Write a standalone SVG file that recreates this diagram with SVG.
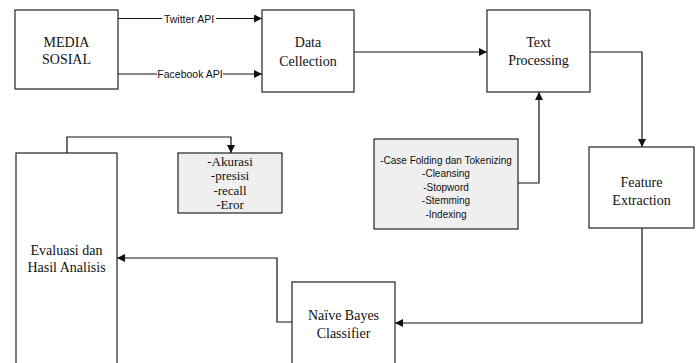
<svg xmlns="http://www.w3.org/2000/svg" width="698" height="363" viewBox="0 0 698 363">
<style>
  .box{fill:#ffffff;stroke:#222;stroke-width:1.2}
  .gray{fill:#efefef;stroke:#222;stroke-width:1.2}
  .lbl{font-family:"Liberation Serif","Times New Roman",serif;font-size:14px;fill:#111;text-anchor:middle}
  .met{font-family:"Liberation Serif","Times New Roman",serif;font-size:13px;fill:#111;text-anchor:middle}
  .pre{font-family:"Liberation Sans",Arial,sans-serif;font-size:10px;fill:#111;text-anchor:middle}
  .api{font-family:"Liberation Sans",Arial,sans-serif;font-size:10.5px;fill:#111;text-anchor:middle}
  .con{fill:none;stroke:#111;stroke-width:1.2}
</style>
<defs>
  <marker id="arr" viewBox="0 0 10 10" refX="10" refY="5" markerWidth="8" markerHeight="8" markerUnits="userSpaceOnUse" orient="auto">
    <path d="M0,0 L10,5 L0,10 Z" fill="#111"/>
  </marker>
</defs>
<rect width="698" height="363" fill="#ffffff"/>

<g id="connectors">
  <path class="con" d="M118,18.5 H262" marker-end="url(#arr)"/>
  <path class="con" d="M118,74 H262" marker-end="url(#arr)"/>
  <path class="con" d="M354,52 H487" marker-end="url(#arr)"/>
  <path class="con" d="M590,52 H642 V147" marker-end="url(#arr)"/>
  <path class="con" d="M518,183 H539 V92" marker-end="url(#arr)"/>
  <path class="con" d="M642,228 V323 H395" marker-end="url(#arr)"/>
  <path class="con" d="M292,322 H277 V258 H117" marker-end="url(#arr)"/>
  <path class="con" d="M67,153 V137 H231 V153" marker-end="url(#arr)"/>
  <g id="label-twitter">
    <rect x="162" y="12" width="54" height="13" fill="#ffffff"/>
    <text class="api" x="189" y="22.5">Twitter API</text>
  </g>
  <g id="label-facebook">
    <rect x="157" y="67.5" width="66" height="13" fill="#ffffff"/>
    <text class="api" x="190" y="78">Facebook API</text>
  </g>
</g>

<g id="media-sosial">
  <rect class="box" x="15" y="10" width="103" height="79"/>
  <text class="lbl" x="66.5" y="47">MEDIA</text>
  <text class="lbl" x="66.5" y="64">SOSIAL</text>
</g>

<g id="data-collection">
  <rect class="box" x="262" y="10" width="92" height="82"/>
  <text class="lbl" x="308" y="47">Data</text>
  <text class="lbl" x="308" y="65.5">Cellection</text>
</g>

<g id="text-processing">
  <rect class="box" x="487" y="10" width="103" height="82"/>
  <text class="lbl" x="538.5" y="47">Text</text>
  <text class="lbl" x="538.5" y="65">Processing</text>
</g>

<g id="preprocessing-steps">
  <rect class="gray" x="374" y="139" width="144" height="90"/>
  <text class="pre" x="446" y="163.5">-Case Folding dan Tokenizing</text>
  <text class="pre" x="446" y="177">-Cleansing</text>
  <text class="pre" x="446" y="190.5">-Stopword</text>
  <text class="pre" x="446" y="204">-Stemming</text>
  <text class="pre" x="446" y="217.5">-Indexing</text>
</g>

<g id="feature-extraction">
  <rect class="box" x="589" y="147" width="105" height="81"/>
  <text class="lbl" x="641.5" y="187">Feature</text>
  <text class="lbl" x="641.5" y="205">Extraction</text>
</g>

<g id="naive-bayes">
  <rect class="box" x="292" y="282" width="103" height="100"/>
  <text class="lbl" x="343.5" y="320">Naïve Bayes</text>
  <text class="lbl" x="343.5" y="338">Classifier</text>
</g>

<g id="evaluasi">
  <rect class="box" x="16" y="153" width="101" height="230"/>
  <text class="lbl" x="66.5" y="255">Evaluasi dan</text>
  <text class="lbl" x="66.5" y="272">Hasil Analisis</text>
</g>

<g id="metrics">
  <rect class="gray" x="178" y="153" width="104" height="60"/>
  <text class="met" x="230" y="165.5">-Akurasi</text>
  <text class="met" x="230" y="180">-presisi</text>
  <text class="met" x="230" y="194.5">-recall</text>
  <text class="met" x="230" y="209">-Eror</text>
</g>
</svg>
